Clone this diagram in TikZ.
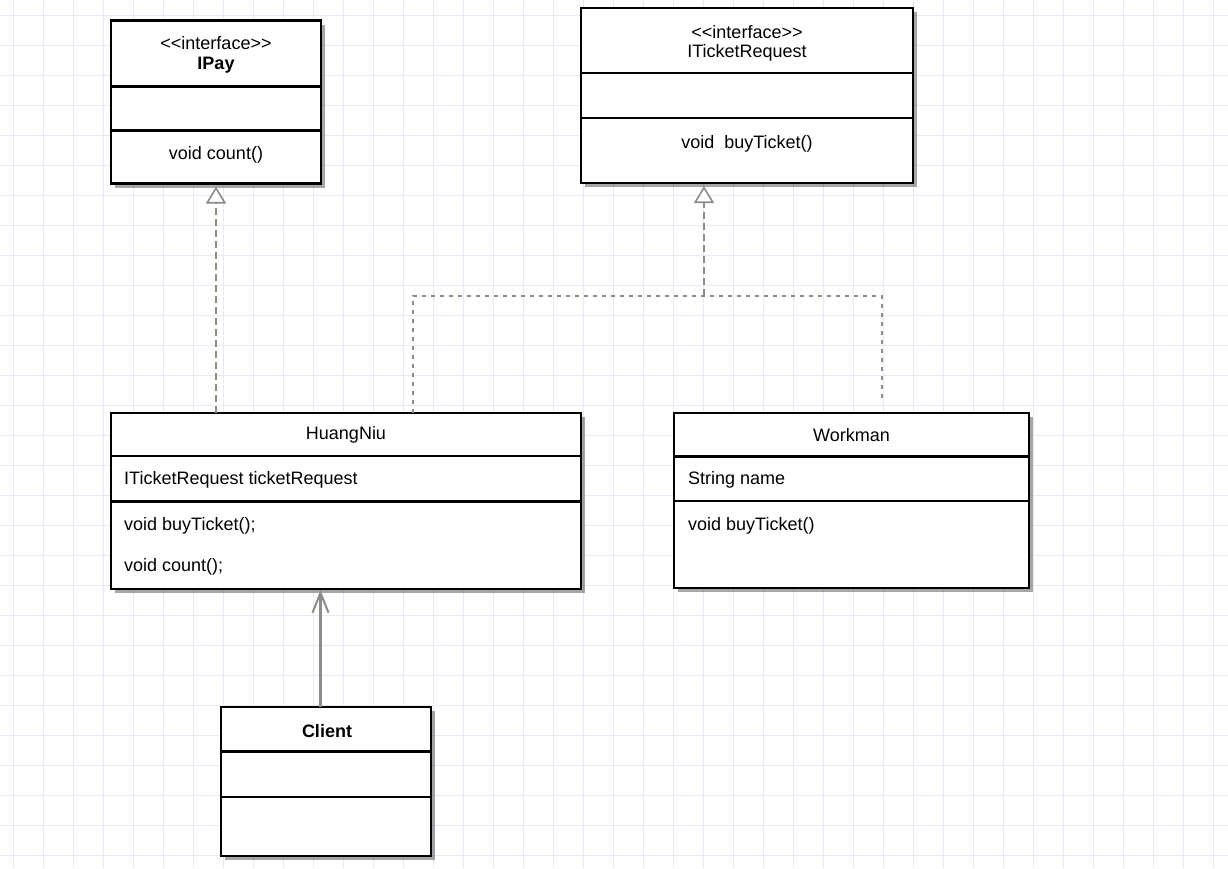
\documentclass[tikz,border=0pt]{standalone}
\usepackage{fontspec}
\newfontfamily\umlfont{Liberation Sans}
\usetikzlibrary{arrows.meta,shadows,calc}
\definecolor{gridc}{HTML}{E9E9F5}
\definecolor{conngray}{HTML}{8C8C8C}
\begin{document}
\begin{tikzpicture}[x=1pt,y=-1pt,
  gridline/.style={draw=gridc, line width=1pt},
  umlbox/.style={draw=black, line width=2.7pt, fill=white, inner sep=0pt, outer sep=0pt,
    drop shadow={shadow xshift=4pt, shadow yshift=-4pt, fill=black, opacity=0.35}},
  divider/.style={draw=black, line width=2.4pt},
  txt/.style={font=\umlfont\fontsize{18}{21}\selectfont, inner sep=0pt},
  conn/.style={draw=conngray, line width=2.2pt},
  realize/.style={conn, dash pattern=on 7pt off 4pt,
    -{Triangle[open, length=17pt, width=20pt, line width=1.6pt, fill=white]}},
  tree/.style={conn, dash pattern=on 4pt off 5pt},
  assoc/.style={conn, -{Straight Barb[length=20pt, width=16pt, line width=2pt]}},
]
% background and grid
\fill[white] (0,0) rectangle (1228,868);
\useasboundingbox (0,0) rectangle (1228,868);
\foreach \x in {13,43,...,1213} \draw[gridline] (\x,0) -- (\x,868);
\foreach \y in {15,45,...,855} \draw[gridline] (0,\y) -- (1228,\y);

% IPay
\node[umlbox, minimum width=210pt, minimum height=163pt] (ipay) at (216,102) {};
\draw[divider] (ipay.west |- 0,86.5) -- (ipay.east |- 0,86.5);
\draw[divider] (ipay.west |- 0,130.5) -- (ipay.east |- 0,130.5);
\node[txt] (ipays) at (216,43) {<<interface>>};
\node[txt, font=\umlfont\bfseries\fontsize{18}{21}\selectfont] (ipayn) at (216,65) {IPay};
\node[txt] (ipaym) at (216,155) {void count()};

% ITicketRequest
\node[umlbox, minimum width=332pt, minimum height=175pt] (itr) at (747,95.5) {};
\draw[divider] (itr.west |- 0,73) -- (itr.east |- 0,73);
\draw[divider] (itr.west |- 0,118) -- (itr.east |- 0,118);
\node[txt] (itrs) at (747,32) {<<interface>>};
\node[txt] (itrn) at (747,53) {ITicketRequest};
\node[txt] (itrm) at (747,144) {void~ buyTicket()};

% HuangNiu
\node[umlbox, minimum width=470pt, minimum height=176pt] (hn) at (346,501) {};
\draw[divider] (hn.west |- 0,456) -- (hn.east |- 0,456);
\draw[divider] (hn.west |- 0,501.5) -- (hn.east |- 0,501.5);
\node[txt] (hnn) at (346,435) {HuangNiu};
\node[txt, anchor=west] (hna) at (124,480) {ITicketRequest ticketRequest};
\node[txt, anchor=west] (hnm1) at (124,526) {void buyTicket();};
\node[txt, anchor=west] (hnm2) at (124,567) {void count();};

% Workman
\node[umlbox, minimum width=355pt, minimum height=175pt] (wm) at (851.5,500.5) {};
\draw[divider] (wm.west |- 0,456.5) -- (wm.east |- 0,456.5);
\draw[divider] (wm.west |- 0,501) -- (wm.east |- 0,501);
\node[txt] (wmn) at (851.5,435) {Workman};
\node[txt, anchor=west] (wma) at (688,480) {String name};
\node[txt, anchor=west] (wmm) at (688,526) {void buyTicket()};

% Client
\node[umlbox, minimum width=210pt, minimum height=149pt] (cl) at (326,781.5) {};
\draw[divider] (cl.west |- 0,751.5) -- (cl.east |- 0,751.5);
\draw[divider] (cl.west |- 0,797) -- (cl.east |- 0,797);
\node[txt, font=\umlfont\bfseries\fontsize{18}{21}\selectfont] (cln) at (327,731) {Client};

% connectors
\coordinate (xa) at (216,0);
\coordinate (xl) at (413,0);
\coordinate (xc) at (320.5,0);
\coordinate (j) at (704,296);
\coordinate (wend) at (882,398);

\draw[realize] (hn.north -| xa) -- ($(ipay.south -| xa)+(0,3)$);
\draw[tree] (hn.north -| xl) |- (j) -| (wend);
\draw[realize] (j) -- ($(itr.south -| j)+(0,3)$);
\draw[assoc] (cl.north -| xc) -- ($(hn.south -| xc)+(0,1)$);
\end{tikzpicture}
\end{document}
